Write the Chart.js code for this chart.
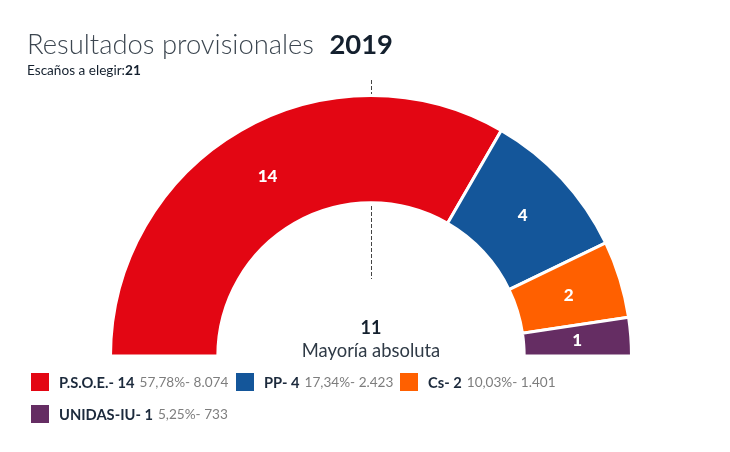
<!DOCTYPE html>
<html>
<head>
<meta charset="utf-8">
<script src="https://cdn.jsdelivr.net/npm/chart.js@4"></script>
<style>
    html, body { margin: 0; background: #fff; font-family: Lato, sans-serif; color: #14202e; }
    #wrap { position: relative; width: 730px; height: 452px; overflow: hidden; }
    #chart { position: absolute; left: 0; top: 0; }
    #title { position: absolute; left: 27px; top: 27px; font-size: 27.4px; line-height: 34px; font-weight: 300; color: #3c4650; white-space: nowrap; }
    #title b { font-weight: 700; color: #14202e; margin-left: 8px; }
    #sub { position: absolute; left: 27px; top: 62px; font-size: 13.6px; line-height: 16px; }
    #sub b { font-weight: 700; }
    .item { position: absolute; display: flex; align-items: center; height: 18px; white-space: nowrap; }
    .box { width: 18px; height: 18px; margin-right: 10px; }
    .name { font-size: 14.7px; font-weight: 700; margin-right: 5px; color: #1c2a3c; }
    .info { font-size: 13.6px; color: #7d7d7d; }
</style>
</head>
<body>
<div id="wrap">
    <canvas id="chart" width="730" height="452"></canvas>
    <div id="title">Resultados provisionales <b>2019</b></div>
    <div id="sub">Escaños a elegir:<b>21</b></div>
</div>
<script>
// Daten
const parties = ['P.S.O.E.', 'PP', 'Cs', 'UNIDAS-IU'];
const seats = [14, 4, 2, 1];
const percents = ['57,78%', '17,34%', '10,03%', '5,25%'];
const votes = ['8.074', '2.423', '1.401', '733'];
const colors = ['#e30613', '#14569a', '#ff6000', '#652d63'];
const majority = 11;
const majorityLabel = 'Mayoría absoluta';

// Legende
const legendX = [31, 236, 400, 31];
const legendY = [373, 373, 373, 405];
const wrap = document.getElementById('wrap');
parties.forEach((p, i) => {
    const item = document.createElement('div');
    item.className = 'item';
    item.style.left = legendX[i] + 'px';
    item.style.top = legendY[i] + 'px';
    item.innerHTML = `<span class="box" style="background:${colors[i]}"></span>` +
        `<span class="name">${p}- ${seats[i]}</span>` +
        `<span class="info">${percents[i]}- ${votes[i]}</span>`;
    wrap.appendChild(item);
});

// Mehrheitslinie liegt hinter dem Bogen, Zahlen und Text davor
const extras = {
    id: 'extras',
    beforeDatasetsDraw(chart) {
        const ctx = chart.ctx;
        const cx = chart.getDatasetMeta(0).data[0].x;
        ctx.save();
        ctx.strokeStyle = '#444';
        ctx.lineWidth = 1;
        ctx.setLineDash([4, 2]);
        ctx.beginPath();
        ctx.moveTo(cx + 0.5, 80);
        ctx.lineTo(cx + 0.5, 279);
        ctx.stroke();
        ctx.restore();
    },
    afterDatasetsDraw(chart) {
        const ctx = chart.ctx;
        const arcs = chart.getDatasetMeta(0).data;
        const cx = arcs[0].x;

        ctx.save();
        ctx.textAlign = 'center';
        ctx.textBaseline = 'middle';
        ctx.fillStyle = '#fff';
        ctx.font = '900 17px Lato';
        arcs.forEach((arc, i) => {
            const pos = arc.getCenterPoint();
            ctx.fillText(seats[i], pos.x, pos.y);
        });

        ctx.fillStyle = '#14202e';
        ctx.font = '700 18px Lato';
        ctx.fillText(majority, cx, 328);
        ctx.fillStyle = '#2f3a46';
        ctx.font = '400 18.4px Lato';
        ctx.fillText(majorityLabel, cx, 351);
        ctx.restore();
    }
};

new Chart(document.getElementById('chart'), {
    type: 'doughnut',
    data: {
        labels: parties,
        datasets: [{
            data: seats,
            backgroundColor: colors,
            borderColor: '#fff',
            borderWidth: 3
        }]
    },
    options: {
        responsive: false,
        animation: false,
        rotation: -90,
        circumference: 180,
        cutout: '58.8%',
        layout: { padding: { left: 109, right: 97, top: 94, bottom: 94.5 } },
        plugins: { legend: { display: false }, tooltip: { enabled: false } }
    },
    plugins: [extras]
});
</script>
</body>
</html>
